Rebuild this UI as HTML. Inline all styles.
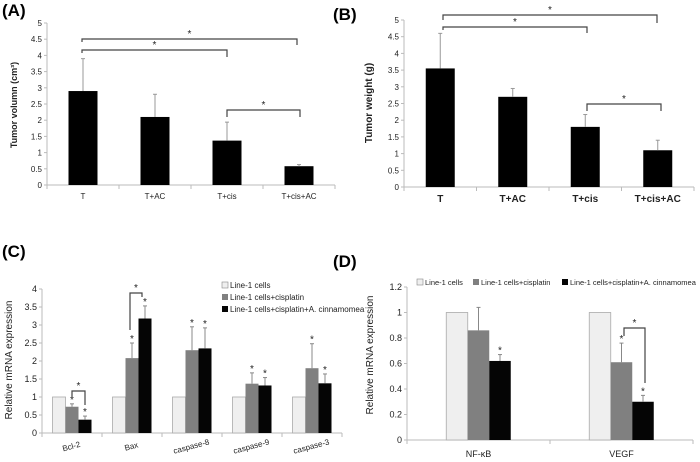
<!DOCTYPE html>
<html><head><meta charset="utf-8"><style>
html,body{margin:0;padding:0;background:#fff;}
svg{display:block;font-family:"Liberation Sans",Arial,sans-serif;}
</style></head><body>
<svg id="fig" width="700" height="462" viewBox="0 0 700 462" xmlns="http://www.w3.org/2000/svg">
<text x="2" y="16" font-size="17" font-weight="bold">(A)</text>
<text x="333" y="20" font-size="17" font-weight="bold">(B)</text>
<text x="2" y="257" font-size="17" font-weight="bold">(C)</text>
<text x="333" y="267" font-size="17" font-weight="bold">(D)</text>
</svg>
<script>
// Panel A data
const catsA = ["T","T+AC","T+cis","T+cis+AC"];
const valsA = [2.9,2.1,1.37,0.58];
const errA = [1.0,0.7,0.57,0.05];
const ticksA = [0,0.5,1,1.5,2,2.5,3,3.5,4,4.5,5];
// Panel B data
const catsB = ["T","T+AC","T+cis","T+cis+AC"];
const valsB = [3.55,2.7,1.8,1.1];
const errB = [1.05,0.25,0.37,0.3];
const ticksB = [0,0.5,1,1.5,2,2.5,3,3.5,4,4.5,5];
// Panel C data
const catsC = ["Bcl-2","Bax","caspase-8","caspase-9","caspase-3"];
const ctrlC = [1,1,1,1,1];
const cisC = [0.73,2.08,2.3,1.37,1.8];
const cisErrC = [0.08,0.42,0.65,0.3,0.68];
const acC = [0.37,3.18,2.35,1.32,1.38];
const acErrC = [0.1,0.35,0.57,0.22,0.26];
const ticksC = [0,0.5,1,1.5,2,2.5,3,3.5,4];
// Panel D data
const catsD = ["NF-κB","VEGF"];
const ctrlD = [1,1];
const cisD = [0.86,0.61];
const cisErrD = [0.18,0.15];
const acD = [0.62,0.3];
const acErrD = [0.05,0.05];
const ticksD = [0,0.2,0.4,0.6,0.8,1,1.2];
const legendLabels = ["Line-1 cells","Line-1 cells+cisplatin","Line-1 cells+cisplatin+A. cinnamomea"];

const svg = document.getElementById('fig');
const NS = "http://www.w3.org/2000/svg";
function mk(tag, attrs, parent){
  const e = document.createElementNS(NS, tag);
  for (const k in attrs) e.setAttribute(k, attrs[k]);
  (parent||svg).appendChild(e);
  return e;
}
function txt(x,y,s,size,anchor,extra){
  const t = mk('text', Object.assign({x:x,y:y,'font-size':size,'text-anchor':anchor||'start',fill:'#222'}, extra||{}));
  t.textContent = s;
  return t;
}
const fills = ['#efefef','#808080','#050505'];

function panel(cfg){
  const {x0,x1,y0,yTop,maxV,ticks,cats} = cfg;
  const ys = v => y0 - (v/maxV)*(y0-yTop);
  const cw = (x1-x0)/cats.length;
  const xc = i => x0 + cw*(i+0.5);
  const ax = mk('line',{x1:x0,y1:yTop,x2:x0,y2:y0,stroke:'#bbb','stroke-width':1});
  
  
  const bx = mk('line',{x1:x0,y1:y0,x2:x1,y2:y0,stroke:'#bbb','stroke-width':1});
  
  
  ticks.forEach(t=>{
    mk('line',{x1:x0-3,y1:ys(t),x2:x0,y2:ys(t),stroke:'#bbb'});
    const l = txt(x0-5, ys(t)+3, String(t), cfg.tickSize||8, 'end');
    
    
  });
  for(let i=0;i<=cats.length;i++){
    mk('line',{x1:x0+cw*i,y1:y0,x2:x0+cw*i,y2:y0+4,stroke:'#bbb'});
  }
  return {ys,xc,cw};
}
function errbar(x,top,e,ys,col){
  mk('line',{x1:x,y1:ys(top),x2:x,y2:ys(top+e),stroke:col||'#999','stroke-width':1});
  mk('line',{x1:x-2,y1:ys(top+e),x2:x+2,y2:ys(top+e),stroke:col||'#999','stroke-width':1});
}
function bracket(xa,xb,y,ya,yb,star){
  mk('path',{d:`M${xa},${ya} L${xa},${y} L${xb},${y} L${xb},${yb}`,fill:'none',stroke:'#444','stroke-width':1.2});
  const s = txt((xa+xb)/2, y-2, '*', 10, 'middle');
  
  
}

// Panel A
(function(){
  const p = panel({id:'a',x0:47,x1:335,y0:185,yTop:23,maxV:5,ticks:ticksA,cats:catsA});
  catsA.forEach((c,i)=>{
    const r = mk('rect',{x:p.xc(i)-14.5,y:p.ys(valsA[i]),width:29,height:185-p.ys(valsA[i]),fill:'#000'});
    
    
    errbar(p.xc(i),valsA[i],errA[i],p.ys);
    const l = txt(p.xc(i),199,c,8,'middle');
    
    
  });
  bracket(82,297,39,42,45);
  bracket(82,227,50,53,57);
  bracket(227,300,110,117,117);
  const t = txt(0,0,'Tumor volumn (cm³)',9,'middle',{'font-weight':'bold',transform:'translate(17,105) rotate(-90)'});
  
  
})();
// Panel B
(function(){
  const p = panel({id:'b',x0:404,x1:694,y0:187,yTop:20,maxV:5,ticks:ticksB,cats:catsB});
  catsB.forEach((c,i)=>{
    const r = mk('rect',{x:p.xc(i)-14.5,y:p.ys(valsB[i]),width:29,height:187-p.ys(valsB[i]),fill:'#000'});
    
    
    errbar(p.xc(i),valsB[i],errB[i],p.ys);
    const l = txt(p.xc(i),202,c,10,'middle',{'font-weight':'bold'});
    
    
  });
  bracket(443,657,15,20,23);
  bracket(443,587,27,30,33);
  bracket(587,661,104,111,111);
  const t = txt(0,0,'Tumor weight (g)',10,'middle',{'font-weight':'bold',transform:'translate(372,103) rotate(-90)'});
  
  
})();
// Panel C
(function(){
  const p = panel({id:'c',x0:42,x1:342,y0:433,yTop:289,maxV:4,ticks:ticksC,cats:catsC,tickSize:9});
  const bw = 13;
  catsC.forEach((c,i)=>{
    const series=[[ctrlC[i],0],[cisC[i],cisErrC[i]],[acC[i],acErrC[i]]];
    series.forEach((s,k)=>{
      const bx = p.xc(i)-1.5*bw + k*bw;
      const r = mk('rect',{x:bx,y:p.ys(s[0]),width:bw,height:433-p.ys(s[0]),fill:fills[k],stroke:k===0?'#aaa':'none','stroke-width':0.8});
      
      
      if(k>0){
        errbar(bx+bw/2,s[0],s[1],p.ys,'#888');
        const st = txt(bx+bw/2,p.ys(s[0]+s[1])-1,'*',10,'middle');
        
        
      }
    });
    const l = txt(0,0,c,8,'middle',{transform:`translate(${p.xc(i)},${449}) rotate(-15)`});
    
    
  });
  bracket(72,85,391,397,405);
  bracket(130,142,293,330,297);
  legendLabels.forEach((s,k)=>{
    const y=286+k*12;
    const sw = mk('rect',{x:222,y:y-4,width:6,height:6,fill:fills[k],stroke:k===0?'#888':'none','stroke-width':0.6});
    
    
    const l = txt(230,y+2,s,8,'start');
    
    
  });
  const t = txt(0,0,'Relative mRNA expression',10,'middle',{transform:'translate(12,360) rotate(-90)'});
  
  
})();
// Panel D
(function(){
  const p = panel({id:'d',x0:407,x1:693,y0:440,yTop:287,maxV:1.2,ticks:ticksD,cats:catsD,tickSize:9});
  const bw = 21.5;
  catsD.forEach((c,i)=>{
    const series=[[ctrlD[i],0],[cisD[i],cisErrD[i]],[acD[i],acErrD[i]]];
    series.forEach((s,k)=>{
      const bx = p.xc(i)-1.5*bw + k*bw;
      const r = mk('rect',{x:bx,y:p.ys(s[0]),width:bw,height:440-p.ys(s[0]),fill:fills[k],stroke:k===0?'#aaa':'none','stroke-width':0.8});
      
      
      if(k>0){
        errbar(bx+bw/2,s[0],s[1],p.ys,'#888');
        if(!(i===0&&k===1)){
          const st = txt(bx+bw/2,p.ys(s[0]+s[1])-1,'*',10,'middle');
          
          
        }
      }
    });
    const l = txt(p.xc(i),457,c,9,'middle');
    
    
  });
  bracket(624,645,328,336,383);
  const lx=[417,473,562];
  legendLabels.forEach((s,k)=>{
    const sw = mk('rect',{x:lx[k],y:279,width:6,height:6,fill:fills[k],stroke:k===0?'#888':'none','stroke-width':0.6});
    
    
    const l = txt(lx[k]+8,285,s,7.5,'start');
    
    
  });
  const t = txt(0,0,'Relative mRNA expression',10,'middle',{transform:'translate(373,355) rotate(-90)'});
  
  
})();
</script>
</body></html>
